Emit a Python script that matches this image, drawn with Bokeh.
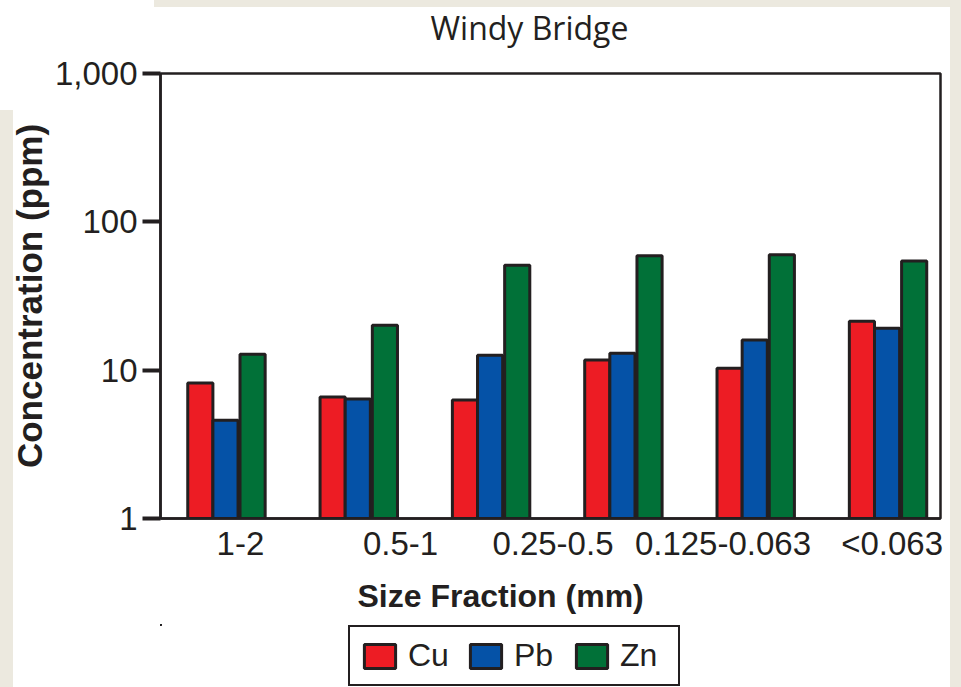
from bokeh.plotting import figure
from bokeh.layouts import column
from bokeh.models import (Range1d, FixedTicker, NumeralTickFormatter, Title,
                          Legend, ColumnDataSource)
from bokeh.embed import file_html
from bokeh.resources import INLINE

# Metal concentrations (ppm) in six sieved size fractions, Windy Bridge
sample_groups = [0, 1, 2, 3, 4, 5]
cu_ppm = [8.2, 6.6, 6.3, 11.7, 10.3, 21.4]
pb_ppm = [4.6, 6.4, 12.6, 13.0, 16.0, 19.2]
zn_ppm = [12.8, 20.1, 51.0, 59.0, 60.0, 54.5]

# Size-fraction labels printed under the bars (mm)
fraction_labels = ["1-2", "0.5-1", "0.25-0.5", "0.125-0.063", "<0.063"]
y_ticks = [1, 10, 100, 1000]

# ---- layout and styling ----
INK = "#231f20"
PAPER = "#ece9df"
FONT = "Liberation Sans"
label_anchor = [0.113, 1.323, 2.475, 3.760, 5.038]  # x of each fraction label
bar_width = 0.19
series = [
    ("Cu", cu_ppm, "#ed1c24", -0.19),
    ("Pb", pb_ppm, "#0552a7", 0.0),
    ("Zn", zn_ppm, "#017138", 0.205),
]
bar_style = dict(line_color=INK, line_width=3)


def strip(height):
    """A bare, transparent band that shares the chart's frame columns."""
    s = figure(width=961, height=height, x_range=Range1d(100, 200),
               y_range=Range1d(-2, -1), output_backend="svg",
               toolbar_location=None, min_border=0,
               x_axis_location=None, y_axis_location=None)
    s.grid.visible = False
    s.outline_line_color = None
    s.background_fill_alpha = 0
    s.border_fill_alpha = 0
    return s


sources = {
    name: ColumnDataSource(dict(x=[g + shift for g in sample_groups], top=vals))
    for name, vals, color, shift in series
}

# ---- title band ----
head = strip(54)
head.title.text = "Windy Bridge"
head.title.align = "left"
head.title.offset = 270
head.title.standoff = 6
head.title.text_font = "Open Sans"
head.title.text_font_style = "normal"
head.title.text_font_size = "32px"
head.title.text_color = INK

# ---- main chart ----
p = figure(width=961, height=570,
           x_range=Range1d(-0.491, 5.404), y_range=Range1d(1, 1000),
           y_axis_type="log", output_backend="svg", toolbar_location=None,
           min_border_left=160, min_border_right=21,
           min_border_top=19, min_border_bottom=104)
p.grid.visible = False
p.background_fill_color = "white"
p.border_fill_alpha = 0
p.outline_line_color = INK
p.outline_line_width = 2.5

for name, vals, color, shift in series:
    p.vbar(x="x", top="top", bottom=1, width=bar_width, source=sources[name],
           fill_color=color, **bar_style)

# y axis: log decades
yax = p.yaxis[0]
yax.ticker = FixedTicker(ticks=y_ticks, minor_ticks=[])
yax.formatter = NumeralTickFormatter(format="0,0")
yax.major_tick_out = 18
yax.major_tick_in = 0
yax.major_tick_line_width = 4
yax.major_tick_line_color = INK
yax.minor_tick_line_color = None
yax.axis_line_color = INK
yax.axis_line_width = 2.5
yax.major_label_standoff = 5
yax.major_label_text_font = FONT
yax.major_label_text_font_size = "33px"
yax.major_label_text_color = INK
yax.axis_label = "Concentration (ppm)"
yax.axis_label_text_font = FONT
yax.axis_label_text_font_style = "bold"
yax.axis_label_text_font_size = "35px"
yax.axis_label_text_color = INK
yax.axis_label_standoff = 3

# x axis: fraction labels only
xax = p.xaxis[0]
xax.ticker = FixedTicker(ticks=label_anchor, minor_ticks=[])
xax.major_label_overrides = dict(zip(label_anchor, fraction_labels))
xax.major_tick_out = 0
xax.major_tick_in = 0
xax.major_tick_line_color = None
xax.minor_tick_line_color = None
xax.axis_line_color = INK
xax.axis_line_width = 2.5
xax.major_label_standoff = 6
xax.major_label_text_font = FONT
xax.major_label_text_font_size = "33px"
xax.major_label_text_color = INK

# x-axis title, placed below the fraction labels
p.add_layout(Title(text="Size Fraction (mm)", align="left", offset=197,
                   standoff=22, text_font=FONT, text_font_style="bold",
                   text_font_size="32px", text_color=INK), "below")

# ---- legend band ----
lg = strip(63)
items = []
for name, vals, color, shift in series:
    r = lg.vbar(x="x", top="top", bottom=1, width=bar_width, source=sources[name],
                fill_color=color, **bar_style)
    items.append((name, [r]))

legend = Legend(items=items, orientation="horizontal", location=(188, 1),
                label_text_font=FONT, label_text_font_size="32px",
                label_text_color=INK, glyph_width=39, glyph_height=30,
                label_standoff=9, label_width=48, spacing=10, padding=10,
                margin=0, border_line_color=INK, border_line_width=2,
                border_line_alpha=1,
                background_fill_color="white", background_fill_alpha=1)
lg.add_layout(legend)

# white sheet with paper margins
page = column(head, p, lg, spacing=0, styles={
    "background": (
        f"linear-gradient({PAPER},{PAPER}) 154px 0px / 807px 7px no-repeat, "
        f"linear-gradient({PAPER},{PAPER}) 950px 0px / 11px 687px no-repeat, "
        f"linear-gradient({PAPER},{PAPER}) 0px 110px / 13px 577px no-repeat, "
        "white"
    )
})

open("out.html", "w").write(file_html(page, INLINE))
